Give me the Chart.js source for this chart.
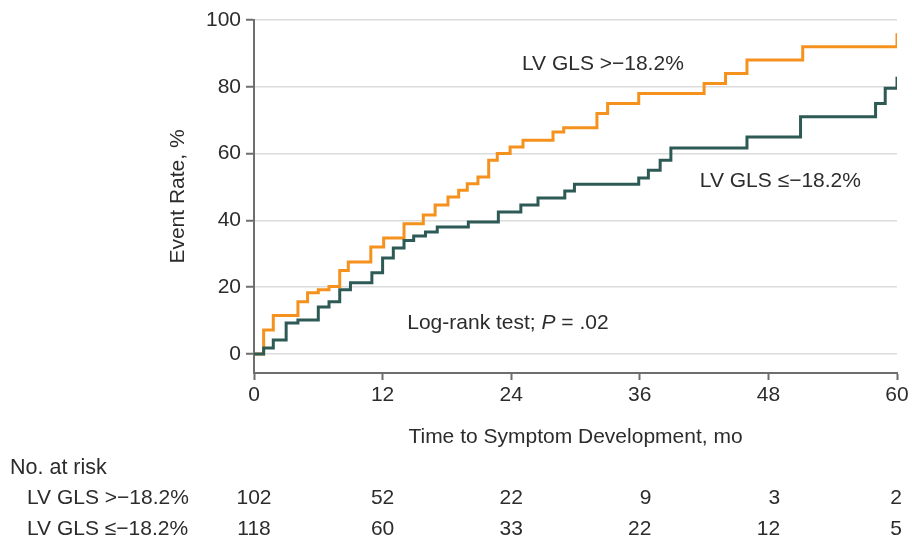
<!DOCTYPE html>
<html>
<head>
<meta charset="utf-8">
<script src="https://cdn.jsdelivr.net/npm/chart.js@4.4.1/dist/chart.umd.min.js"></script>
<style>
  html, body { margin: 0; padding: 0; background: #ffffff; }
  #wrap { width: 912px; height: 546px; }
</style>
</head>
<body>
<div id="wrap"><canvas id="km" width="912" height="546"></canvas></div>
<script>
// Kaplan-Meier cumulative event curves (months, % with event)
const groupNames = ['LV GLS >\u221218.2%', 'LV GLS \u2264\u221218.2%'];

const highTimes = [0, 0.9, 1.8, 4.1, 5.0, 6.0, 7.0, 8.0, 8.8, 10.9, 12.1, 14.0, 15.8, 16.9, 18.1, 19.1, 19.9, 20.9, 21.9, 22.7, 23.9, 25.1, 27.9, 28.9, 32.0, 33.0, 35.9, 42.0, 44.0, 46.0, 51.2, 60.0];
const highRates = [0, 7.2, 11.5, 15.6, 18.3, 19.2, 20.2, 25.0, 27.5, 32.0, 34.7, 39.0, 41.6, 44.6, 47.0, 49.0, 51.0, 53.0, 58.0, 60.0, 62.0, 64.0, 66.5, 67.7, 72.0, 75.0, 78.0, 81.0, 84.0, 88.0, 92.0, 96.0];

const lowTimes = [0, 0.9, 1.8, 3.0, 4.1, 6.0, 7.0, 8.0, 9.0, 11.0, 12.0, 13.0, 14.0, 14.9, 16.0, 17.1, 20.0, 22.8, 24.9, 26.5, 29.0, 29.9, 35.9, 36.8, 37.9, 38.9, 46.0, 51.0, 58.0, 58.9, 60.0];
const lowRates = [0, 1.8, 4.2, 9.3, 10.2, 14.1, 15.6, 19.2, 21.3, 24.3, 28.7, 31.7, 34.0, 35.3, 36.5, 38.0, 39.5, 42.5, 44.6, 46.7, 48.8, 50.8, 52.7, 55.0, 58.0, 61.7, 65.0, 71.0, 75.0, 79.6, 83.0];

// Tick labels
const xTicks = [0, 12, 24, 36, 48, 60];
const yTicks = [0, 20, 40, 60, 80, 100];

// Number at risk table
const riskTimes = [0, 12, 24, 36, 48, 60];
const riskHigh = [102, 52, 22, 9, 3, 2];
const riskLow = [118, 60, 33, 22, 12, 5];

const ORANGE = '#F5921E';
const TEAL = '#2E5A56';
const TEXT = '#2c2c2c';
const AXIS = '#6e6e6e';
const FAMILY = '"Liberation Sans", Arial, sans-serif';
const font = (size, style) => (style ? style + ' ' : '') + size + 'px ' + FAMILY;

const toPoints = (ts, vs) => ts.map((t, i) => ({ x: t, y: vs[i] }));

const textLayer = {
  id: 'kmText',
  afterDraw(chart) {
    const { ctx, scales: { x, y } } = chart;
    ctx.save();
    ctx.fillStyle = TEXT;
    ctx.textBaseline = 'middle';
    ctx.font = font(21);

    // curve labels
    ctx.textAlign = 'left';
    ctx.fillText(groupNames[0], x.getPixelForValue(25.0), y.getPixelForValue(86.8));
    ctx.fillText(groupNames[1], x.getPixelForValue(41.6), y.getPixelForValue(51.8));

    // log-rank result, with italic P
    let lx = x.getPixelForValue(14.3);
    const ly = y.getPixelForValue(9.3);
    const partA = 'Log-rank test; ';
    ctx.fillText(partA, lx, ly);
    lx += ctx.measureText(partA).width;
    ctx.font = font(21, 'italic');
    ctx.fillText('P', lx, ly);
    lx += ctx.measureText('P').width;
    ctx.font = font(21);
    ctx.fillText(' = .02', lx, ly);

    // axis titles
    ctx.textAlign = 'center';
    ctx.fillText('Time to Symptom Development, mo', (x.left + x.right) / 2, 437);
    ctx.save();
    ctx.translate(178, (y.top + y.bottom) / 2);
    ctx.rotate(-Math.PI / 2);
    ctx.fillText('Event Rate, %', 0, 0);
    ctx.restore();

    // number at risk: figures line up on the right edge of a two-digit column
    ctx.font = font(21.5);
    ctx.textAlign = 'left';
    ctx.fillText('No. at risk', 10, 468);
    ctx.font = font(21);
    ctx.fillText(groupNames[0], 27, 498);
    ctx.fillText(groupNames[1], 27, 529);
    ctx.textAlign = 'right';
    const twoDigit = ctx.measureText('00').width;
    const rows = [[riskHigh, 498], [riskLow, 529]];
    rows.forEach(([vals, ry]) => {
      vals.forEach((v, i) => {
        const s = String(v);
        const w = Math.max(twoDigit, ctx.measureText(s).width);
        const right = Math.min(x.getPixelForValue(riskTimes[i]) + w / 2, x.right + 5);
        ctx.fillText(s, right, ry);
      });
    });
    ctx.restore();
  }
};

new Chart(document.getElementById('km'), {
  type: 'line',
  data: {
    datasets: [
      {
        label: groupNames[1],
        data: toPoints(lowTimes, lowRates),
        borderColor: TEAL,
        borderWidth: 3,
        stepped: 'before',
        pointRadius: 0,
        fill: false,
        order: 0
      },
      {
        label: groupNames[0],
        data: toPoints(highTimes, highRates),
        borderColor: ORANGE,
        borderWidth: 3,
        stepped: 'before',
        pointRadius: 0,
        fill: false,
        order: 1
      }
    ]
  },
  options: {
    responsive: false,
    animation: false,
    layout: { padding: { left: 0, right: 15, top: 20, bottom: 0 } },
    plugins: { legend: { display: false }, tooltip: { enabled: false } },
    scales: {
      x: {
        type: 'linear',
        min: 0,
        max: 60,
        afterBuildTicks: (s) => { s.ticks = xTicks.map(v => ({ value: v })); },
        afterFit: (s) => { s.height = 173; },
        ticks: { color: TEXT, font: { family: FAMILY, size: 21 }, padding: 3, maxRotation: 0 },
        grid: { drawOnChartArea: false, drawTicks: true, tickLength: 7, tickColor: AXIS, tickWidth: 2 },
        border: { display: true, color: AXIS, width: 2 }
      },
      y: {
        type: 'linear',
        min: -5.7,
        max: 100,
        afterBuildTicks: (s) => { s.ticks = yTicks.map(v => ({ value: v })); },
        afterFit: (s) => { s.width = 254; },
        ticks: { color: TEXT, font: { family: FAMILY, size: 21 }, padding: 5 },
        grid: { color: '#dcdcdc', lineWidth: 1.5, drawTicks: true, tickLength: 8, tickColor: AXIS, tickWidth: 2 },
        border: { display: true, color: AXIS, width: 2 }
      }
    }
  },
  plugins: [textLayer]
});
</script>
</body>
</html>
